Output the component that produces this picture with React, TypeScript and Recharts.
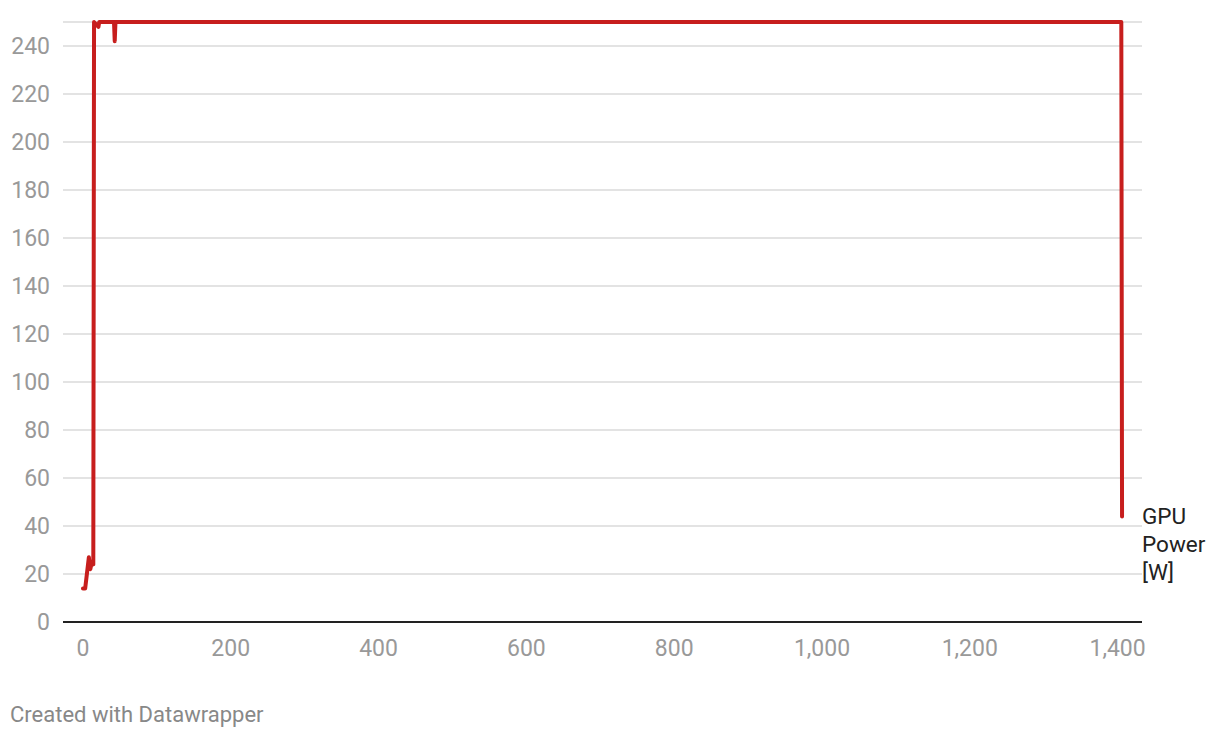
import React from "react";
import { CartesianGrid, Line, LineChart, XAxis, YAxis } from "recharts";

// seconds since start of the run
const times = [0, 3, 8, 10, 12, 14, 15, 21, 22, 23, 42, 43, 44, 300, 700, 1000, 1405, 1406];
// GPU board power in watts
const power = [14, 14, 27, 22, 25, 24, 250, 248, 250, 250, 250, 242, 250, 250, 250, 250, 250, 44];

const xTicks = [0, 200, 400, 600, 800, 1000, 1200, 1400];
const yTicks = [0, 20, 40, 60, 80, 100, 120, 140, 160, 180, 200, 220, 240];
const seriesName = ["GPU", "Power", "[W]"];

const data = times.map((t, i) => ({ t, power: power[i] }));

const FONT = "Roboto, 'Noto Sans', sans-serif";

function EndLabel(props: any) {
  const { x, y, index } = props;
  if (index !== data.length - 1) return null;
  return (
    <text x={x + 20} y={y} fill="#222" fontSize={22.5} fontFamily={FONT}>
      {seriesName.map((s, i) => (
        <tspan key={s} x={x + 20} dy={i === 0 ? 8 : 28}>
          {s}
        </tspan>
      ))}
    </text>
  );
}

export default function App() {
  return (
    <div style={{ position: "absolute", left: 0, top: 0, width: 1220, height: 738, background: "#fff" }}>
      <LineChart
        width={1220}
        height={738}
        data={data}
        margin={{ top: 22, right: 78, bottom: 76, left: 0 }}
      >
        <CartesianGrid vertical={false} stroke="#e3e3e3" strokeWidth={2} />
        <XAxis
          dataKey="t"
          type="number"
          domain={[-27, 1433]}
          ticks={xTicks}
          tickFormatter={(v: number) => v.toLocaleString("en-US")}
          axisLine={{ stroke: "#222", strokeWidth: 2 }}
          tickLine={false}
          tickSize={0}
          tickMargin={18}
          height={40}
          tick={{ fill: "#999", fontSize: 23, fontFamily: FONT }}
        />
        <YAxis
          type="number"
          domain={[0, 250]}
          ticks={yTicks}
          axisLine={false}
          tickLine={false}
          tickSize={0}
          tickMargin={13}
          width={63}
          tick={{ fill: "#999", fontSize: 23, fontFamily: FONT }}
        />
        <Line
          type="linear"
          dataKey="power"
          stroke="#c71e1d"
          strokeWidth={4}
          strokeLinejoin="round"
          strokeLinecap="round"
          dot={false}
          isAnimationActive={false}
          label={<EndLabel />}
        />
      </LineChart>
      <div
        style={{
          position: "absolute",
          left: 10,
          top: 702,
          fontFamily: FONT,
          fontSize: 22,
          color: "#888",
          whiteSpace: "nowrap",
        }}
      >
        Created with Datawrapper
      </div>
    </div>
  );
}
